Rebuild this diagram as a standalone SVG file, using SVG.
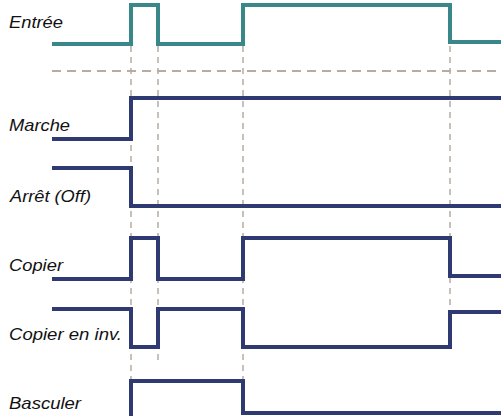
<svg xmlns="http://www.w3.org/2000/svg" width="501" height="416" viewBox="0 0 501 416">
<style>
.lbl{font-family:"Liberation Sans",Arial,sans-serif;font-style:italic;font-size:17px;fill:#111}
.sig{fill:none;stroke:#2f3a72;stroke-width:4;stroke-linejoin:miter;stroke-linecap:butt}
.teal{stroke:#3a8789}
.grid{fill:none;stroke:#b5aca3;stroke-width:1.5;stroke-dasharray:6 5}
.hgrid{fill:none;stroke:#b5aca3;stroke-width:2;stroke-dasharray:9 6}
</style>
<rect width="501" height="416" fill="#fff"/>
<g id="connectors">
<line class="hgrid" x1="52" y1="71" x2="501" y2="71"/>
<line class="grid" x1="131" y1="46" x2="131" y2="416"/>
<line class="grid" x1="158" y1="46" x2="158" y2="360"/>
<line class="grid" x1="243" y1="46" x2="243" y2="416"/>
<line class="grid" x1="450" y1="46" x2="450" y2="310"/>
</g>
<g id="entree">
<text class="lbl" x="9" y="28" textLength="54" lengthAdjust="spacingAndGlyphs">Entrée</text>
<polyline class="sig teal" points="52,44 131,44 131,5 158,5 158,44 243,44 243,5 450,5 450,42 501,42"/>
</g>
<g id="marche">
<text class="lbl" x="9" y="131" textLength="61" lengthAdjust="spacingAndGlyphs">Marche</text>
<polyline class="sig" points="52,139 131,139 131,98 501,98"/>
</g>
<g id="arret">
<text class="lbl" x="10" y="202" textLength="81" lengthAdjust="spacingAndGlyphs">Arrêt (Off)</text>
<polyline class="sig" points="52,168 131,168 131,206 501,206"/>
</g>
<g id="copier">
<text class="lbl" x="9" y="271" textLength="54" lengthAdjust="spacingAndGlyphs">Copier</text>
<polyline class="sig" points="52,279 131,279 131,238 158,238 158,279 243,279 243,238 450,238 450,276 501,276"/>
</g>
<g id="copier-inv">
<text class="lbl" x="9" y="340" textLength="113" lengthAdjust="spacingAndGlyphs">Copier en inv.</text>
<polyline class="sig" points="52,309 131,309 131,347 158,347 158,309 243,309 243,347 450,347 450,312 501,312"/>
</g>
<g id="basculer">
<text class="lbl" x="9" y="409" textLength="72" lengthAdjust="spacingAndGlyphs">Basculer</text>
<polyline class="sig" points="131,420 131,381 243,381 243,413 501,413"/>
</g>
</svg>
